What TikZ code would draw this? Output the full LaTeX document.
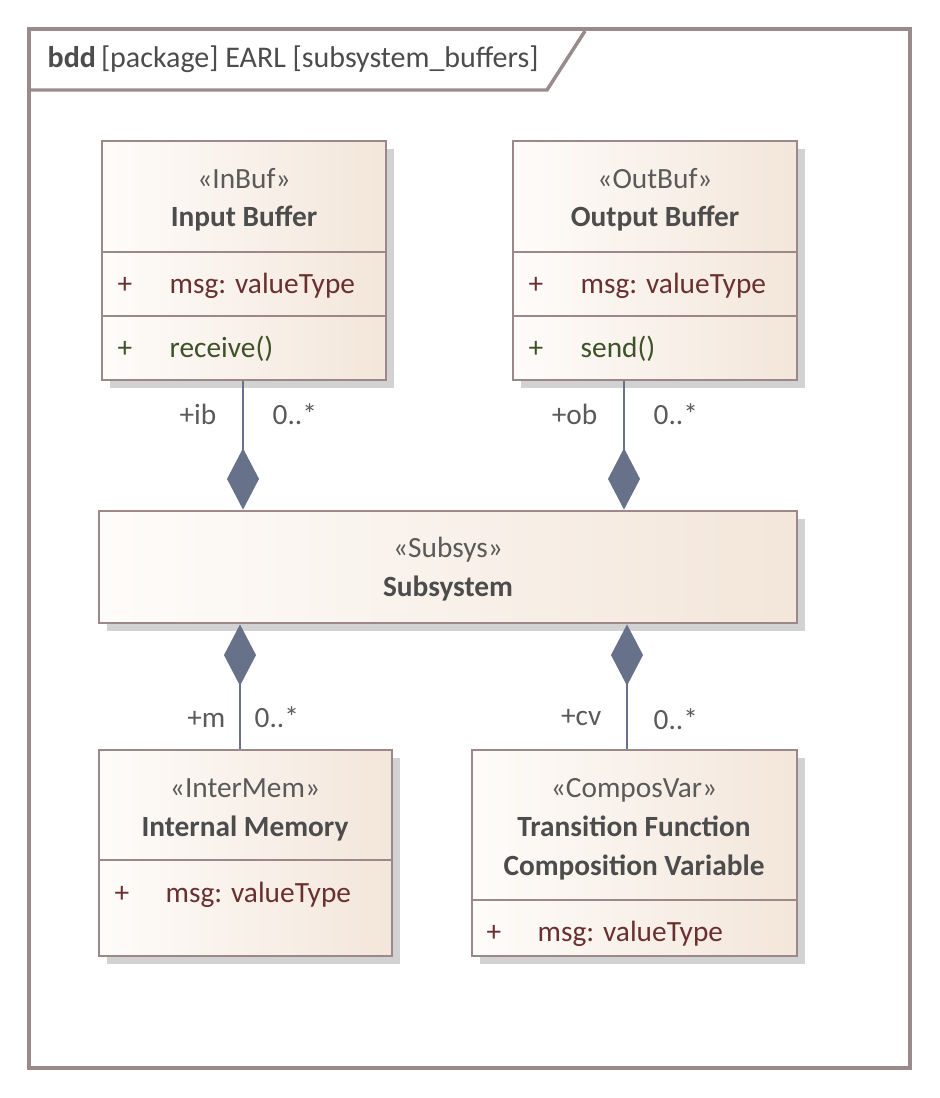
\documentclass[tikz,border=0pt]{standalone}
\usepackage{fontspec}
\setmainfont{Carlito}
\usetikzlibrary{arrows.meta,fit,shadows}

\definecolor{edgeC}{HTML}{9C8888}
\definecolor{frameC}{HTML}{998B8B}
\definecolor{fillL}{HTML}{FEFCFA}
\definecolor{fillR}{HTML}{F3E6DA}
\definecolor{shadeC}{HTML}{D2D2D2}
\definecolor{stereoC}{HTML}{5A5A5A}
\definecolor{nameC}{HTML}{4C4C4C}
\definecolor{attrC}{HTML}{6A3030}
\definecolor{operC}{HTML}{3E5228}
\definecolor{connC}{HTML}{67728A}

\begin{document}
\begin{tikzpicture}[x=0.75pt,y=-0.75pt,
    every node/.style={font=\fontsize{22}{26}\selectfont},
    block/.style={draw=edgeC, line width=2.1pt, left color=fillL, right color=fillR,
      inner sep=0pt, drop shadow={shadow xshift=6pt, shadow yshift=-6pt, fill=shadeC, opacity=1}},
    divider/.style={draw=edgeC, line width=2.1pt},
    stereo/.style={anchor=base, text=stereoC},
    blockname/.style={anchor=base, text=nameC, font=\fontsize{22}{26}\selectfont\bfseries},
    attr/.style={anchor=base west, text=attrC},
    oper/.style={anchor=base west, text=operC},
    lbl/.style={text=stereoC},
    comp/.style={draw=connC, line width=2pt, {Diamond[length=46pt,width=24pt,fill=connC]}-}]

    \useasboundingbox (0,0) rectangle (939,1098);

    % Diagram frame
    \draw[frameC, line width=3pt] (29,29) rectangle (910,1068);
    \draw[frameC, line width=2.6pt] (29,90) -- (547,90) -- (585,31);
    \node[anchor=base west, text=nameC, font=\fontsize{22.5}{27}\selectfont] (hdr) at (43,68)
      {\textbf{bdd}\,[package] EARL [subsystem\_buffers]};

    % Subsystem
    \node[block, fit={(99,511) (797,623)}] (sub) {};
    \node[stereo]    at (448,557) {«Subsys»};
    \node[blockname] at (448,596) {Subsystem};

    % Buffers and their composition links
    \foreach \n/\x/\st/\nm/\op/\cx/\rl in {ib/102/InBuf/Input Buffer/receive()/243/+ib,
                                          ob/513/OutBuf/Output Buffer/send()/624/+ob} {
      \node[block, fit={(\x,141) (\x+284,380)}] (\n) {};
      \node[stereo]    at (\x+142,189) {«\st»};
      \node[blockname] at (\x+142,227) {\nm};
      \draw[divider] (\n.west |- 0,252) -- (\n.east |- 0,252);
      \draw[divider] (\n.west |- 0,316) -- (\n.east |- 0,316);
      \node[attr] at (\x+11,293) {+};
      \node[attr] at (\x+63,293) {msg: valueType};
      \node[oper] at (\x+11,357) {+};
      \node[oper] at (\x+63,357) {\op};

      \coordinate (\n c) at (\cx,0);
      \draw[comp] (sub.north -| \n c) -- (\n.south -| \n c);
      \node[lbl, anchor=base east] at (\cx-22,424) {\rl};
      \node[lbl, anchor=base west] at (\cx+25,424) {0..*};
    }

    % Internal memory
    \node[block, fit={(99,750) (392,956)}] (mem) {};
    \node[stereo]    at (245,797) {«InterMem»};
    \node[blockname] at (245,836) {Internal Memory};
    \draw[divider] (mem.west |- 0,860) -- (mem.east |- 0,860);
    \node[attr] at (110,902) {+};
    \node[attr] at (161,902) {msg: valueType};

    % Composition variable
    \node[block, fit={(472,750) (797,956)}] (cv) {};
    \node[stereo]    at (634,797) {«ComposVar»};
    \node[blockname] at (634,836) {Transition Function};
    \node[blockname] at (634,875) {Composition Variable};
    \draw[divider] (cv.west |- 0,900) -- (cv.east |- 0,900);
    \node[attr] at (482,941) {+};
    \node[attr] at (533,941) {msg: valueType};

    % Lower composition links
    \coordinate (memc) at (240,0);
    \coordinate (cvc) at (627,0);
    \draw[comp] (sub.south -| memc) -- (mem.north -| memc);
    \draw[comp] (sub.south -| cvc) -- (cv.north -| cvc);
    \node[lbl, anchor=base east] at (230,727) {+m};
    \node[lbl, anchor=base west] at (250,727) {0..*};
    \node[lbl, anchor=base east] at (606,725) {+cv};
    \node[lbl, anchor=base west] at (649,729) {0..*};

\end{tikzpicture}
\end{document}
